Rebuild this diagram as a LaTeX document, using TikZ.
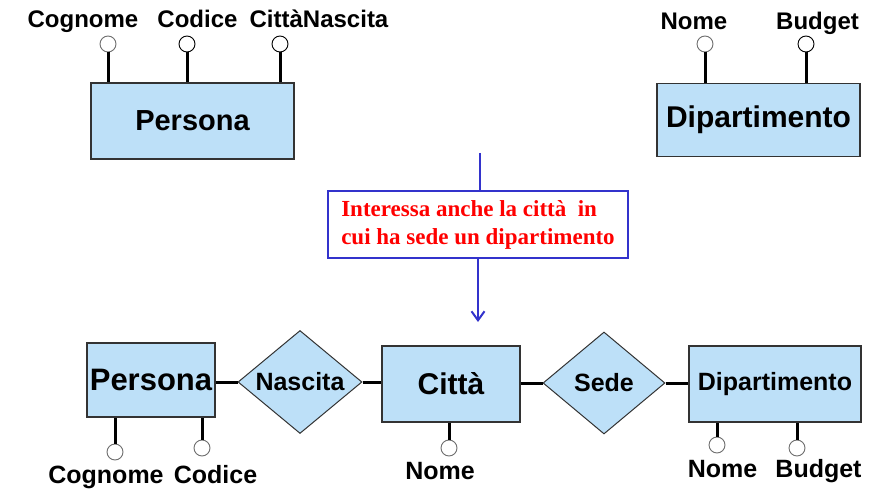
\documentclass[tikz,border=0pt]{standalone}
\usepackage{fontspec}
\setmainfont{Liberation Sans}
\newfontfamily\notefont{Liberation Serif}
\usetikzlibrary{shapes.geometric,arrows.meta}
\definecolor{entfill}{RGB}{189,224,248}
\definecolor{arrblue}{RGB}{51,51,204}
\definecolor{notered}{RGB}{255,0,0}
\definecolor{attrgray}{RGB}{110,110,110}
\begin{document}
\begin{tikzpicture}[x=1pt,y=-1pt,
 entity/.style={draw=black!80, fill=entfill, line width=1.2pt, inner sep=0, font=\bfseries},
 rel/.style={diamond, draw=black!80, fill=entfill, line width=1pt, inner sep=0, aspect=1.2,
   font=\bfseries\fontsize{25}{30}\selectfont},
 attr/.style={circle, draw=black, fill=white, line width=0.9pt, minimum size=16pt, inner sep=0},
 gattr/.style={attr, draw=attrgray},
 link/.style={line width=3pt, black},
 lbl/.style={font=\bfseries\fontsize{24}{28}\selectfont, inner sep=0, anchor=base},
 blbl/.style={font=\bfseries\fontsize{25}{29}\selectfont, inner sep=0, anchor=base},
 blueline/.style={line width=2.2pt, arrblue}
]
\useasboundingbox (0,0) rectangle (881,489);

% ---- top: Persona
\node[entity, minimum width=203pt, minimum height=76pt, font=\bfseries\fontsize{29}{34}\selectfont] (P1) at (192.5,121) {Persona};
\node[gattr] (p1a) at (108,44) {};
\node[attr] (p1b) at (187,44) {};
\node[attr] (p1c) at (280,44) {};
\draw[link] (p1a.south) -- (p1a.south |- P1.north);
\draw[link] (p1b.south) -- (p1b.south |- P1.north);
\draw[link] (p1c.south) -- (p1c.south |- P1.north);
\node[lbl] (l1a) at (83,28) {Cognome};
\node[lbl] (l1b) at (197.5,28) {Codice};
\node[lbl] (l1c) at (319,28) {CittàNascita};

% ---- top: Dipartimento
\node[entity, minimum width=203pt, minimum height=73pt, font=\bfseries\fontsize{30}{35}\selectfont] (D1) at (758.5,120) {Dipartimento};
\node[gattr] (d1a) at (705,44) {};
\node[attr] (d1b) at (806,44) {};
\draw[link] (d1a.south) -- (d1a.south |- D1.north);
\draw[link] (d1b.south) -- (d1b.south |- D1.north);
\node[lbl] (ld1a) at (694,30) {Nome};
\node[lbl] (ld1b) at (817.5,30) {Budget};

% ---- note
\node[draw=arrblue, line width=2pt, fill=white, align=left, inner xsep=13pt, inner ysep=0pt,
  minimum height=67pt, text=notered,
  font=\notefont\bfseries\fontsize{23}{28}\selectfont] (note) at (478,224.5)
  {Interessa anche la città~ in\\cui ha sede un dipartimento};
\coordinate (bt) at (480,153);
\coordinate (tip) at (478,322);
\draw[blueline] (bt) -- (bt |- note.north);
\draw[blueline, -{Straight Barb[length=9pt,width=13pt,line width=2pt]}] (note.south -| tip) -- (tip);

% ---- bottom
\node[entity, minimum width=128pt, minimum height=74pt, font=\bfseries\fontsize{31}{36}\selectfont] (P2) at (151,380) {Persona};
\node[rel, minimum width=124pt, minimum height=103pt] (N) at (300,382) {Nascita};
\node[entity, minimum width=138pt, minimum height=76pt, font=\bfseries\fontsize{30}{35}\selectfont] (C) at (451,384) {Città};
\node[rel, minimum width=122pt, minimum height=102pt] (S) at (604,383) {Sede};
\node[entity, minimum width=172pt, minimum height=76pt, font=\bfseries\fontsize{25}{30}\selectfont] (D2) at (775,384) {Dipartimento};

\draw[link] (N.west -| P2.east) -- (N.west);
\draw[link] (N.east) -- (N.east -| C.west);
\draw[link] (S.west -| C.east) -- (S.west);
\draw[link] (S.east) -- (S.east -| D2.west);

\node[gattr] (p2a) at (115,452) {};
\node[gattr] (p2b) at (202,448) {};
\draw[link] (p2a.north) -- (p2a.north |- P2.south);
\draw[link] (p2b.north) -- (p2b.north |- P2.south);
\node[blbl] (l2a) at (106,483) {Cognome};
\node[blbl] (l2b) at (215.5,483) {Codice};

\node[gattr] (ca) at (449,448) {};
\draw[link] (ca.north) -- (ca.north |- C.south);
\node[blbl] (lca) at (440,479) {Nome};

\node[gattr] (d2a) at (717,445) {};
\node[gattr] (d2b) at (797,448) {};
\draw[link] (d2a.north) -- (d2a.north |- D2.south);
\draw[link] (d2b.north) -- (d2b.north |- D2.south);
\node[blbl] (ld2a) at (722.5,477) {Nome};
\node[blbl] (ld2b) at (818.5,477) {Budget};
\end{tikzpicture}
\end{document}
